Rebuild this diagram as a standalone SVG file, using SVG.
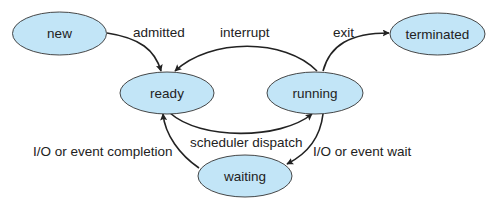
<svg xmlns="http://www.w3.org/2000/svg" width="500" height="202" viewBox="0 0 500 202">
<style>
.n{fill:#c2e5f7;stroke:#333;stroke-width:0.9}
.t{font-family:"Liberation Sans",Arial,sans-serif;font-size:13.5px;fill:#222}
.m{text-anchor:middle}
.c{fill:none;stroke:#222;stroke-width:1.6}
</style>
<defs>
<marker id="a" viewBox="0 0 10 10" refX="9" refY="5" markerWidth="7" markerHeight="7" markerUnits="userSpaceOnUse" orient="auto">
<path d="M0,0L10,5L0,10L2,5Z" fill="#222"/>
</marker>
</defs>
<rect width="500" height="202" fill="#fff"/>
<g id="connectors">
<path class="c" d="M107,33 C140,38 155,50 161,71" marker-end="url(#a)"/>
<path class="c" d="M317,71 C285,38 210,38 175,71" marker-end="url(#a)"/>
<path class="c" d="M323,71 C330,45 350,33 389,33" marker-end="url(#a)"/>
<path class="c" d="M170,113 C200,140 280,140 312,114" marker-end="url(#a)"/>
<path class="c" d="M323,114 C320,140 305,155 287,164" marker-end="url(#a)"/>
<path class="c" d="M199,168 C180,155 165,135 163,114" marker-end="url(#a)"/>
<text class="t" x="133" y="37">admitted</text>
<text class="t" x="220" y="37">interrupt</text>
<text class="t" x="333" y="37">exit</text>
<text class="t" x="190" y="147">scheduler dispatch</text>
<text class="t" x="33" y="156">I/O or event completion</text>
<text class="t" x="313" y="156">I/O or event wait</text>
</g>
<g id="new"><ellipse class="n" cx="59.5" cy="33.5" rx="47" ry="21.5"/><text class="t m" x="59.5" y="38">new</text></g>
<g id="ready"><ellipse class="n" cx="167" cy="93" rx="47" ry="21"/><text class="t m" x="167" y="98">ready</text></g>
<g id="running"><ellipse class="n" cx="315" cy="93" rx="48" ry="21"/><text class="t m" x="315" y="98">running</text></g>
<g id="terminated"><ellipse class="n" cx="437.5" cy="34" rx="47.5" ry="21"/><text class="t m" x="437.5" y="39">terminated</text></g>
<g id="waiting"><ellipse class="n" cx="245" cy="176" rx="47" ry="21"/><text class="t m" x="245" y="181">waiting</text></g>
</svg>
